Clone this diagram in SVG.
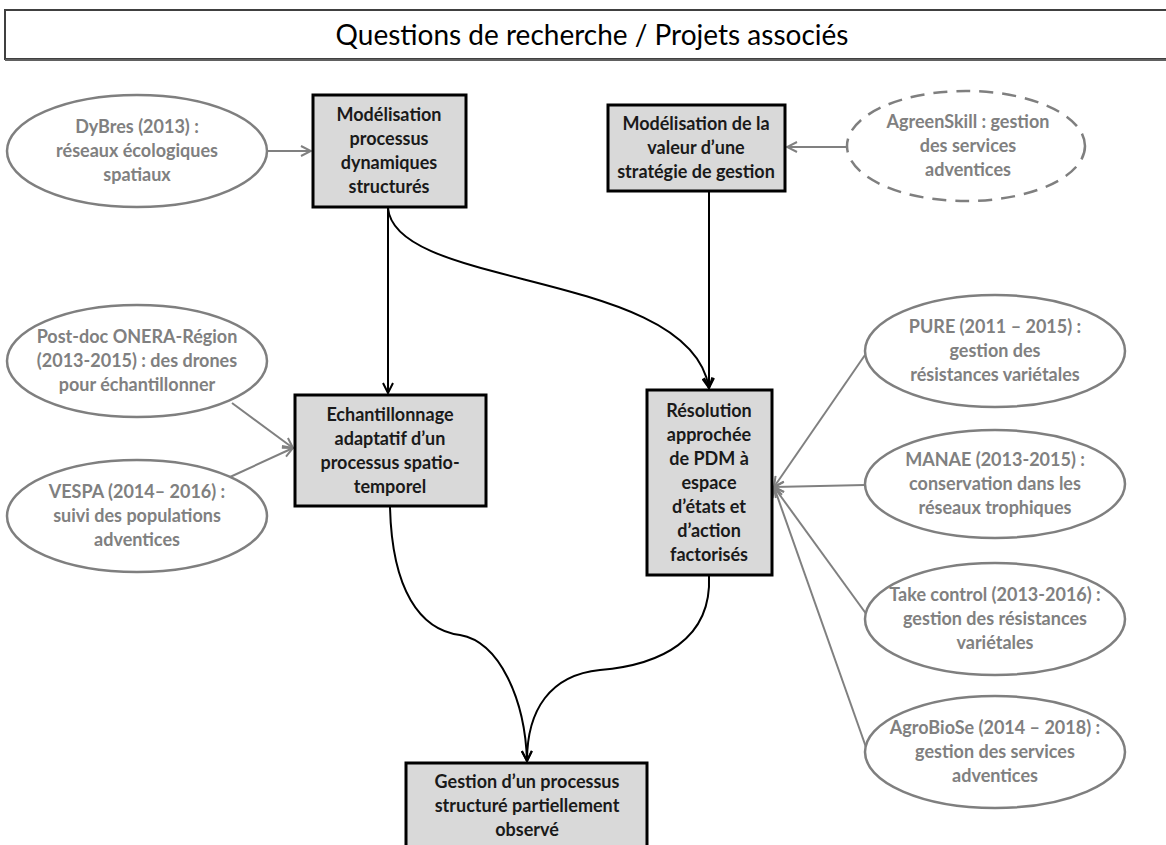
<svg xmlns="http://www.w3.org/2000/svg" width="1166" height="845" viewBox="0 0 1166 845">
<defs>
<style>
.box{fill:#d9d9d9;stroke:#000;stroke-width:3}
.ell{fill:#fff;stroke:#7f7f7f;stroke-width:2.5}
.dash{stroke-dasharray:14 9}
.bt{font-family:Lato,"Liberation Sans",sans-serif;font-weight:bold;font-size:18px;fill:#1a1a1a;text-anchor:middle}
.et{font-family:Lato,"Liberation Sans",sans-serif;font-weight:bold;font-size:18px;fill:#808080;text-anchor:middle}
.title{font-family:Lato,"Liberation Sans",sans-serif;font-size:28px;fill:#000;text-anchor:middle}
.main{fill:none;stroke:#000;stroke-width:2}
.proj{fill:none;stroke:#808080;stroke-width:2}
</style>
<marker id="ab" viewBox="0 0 12 12" refX="11" refY="6" markerWidth="12" markerHeight="12" markerUnits="userSpaceOnUse" orient="auto">
<path d="M1,1 L11,6 L1,11" fill="none" stroke="#000" stroke-width="2"/>
</marker>
<marker id="ag" viewBox="0 0 12 12" refX="11" refY="6" markerWidth="12" markerHeight="12" markerUnits="userSpaceOnUse" orient="auto">
<path d="M1,1 L11,6 L1,11" fill="none" stroke="#808080" stroke-width="2"/>
</marker>
</defs>
<rect width="1166" height="845" fill="#fff"/>
<g id="title">
<rect x="5" y="10" width="1170" height="49" fill="#fff" stroke="#404040" stroke-width="2"/>
<line x1="5" y1="60" x2="1166" y2="60" stroke="#606060" stroke-width="2"/>
<text class="title" x="592" y="45">Questions de recherche / Projets associés</text>
</g>
<g id="connectors">
<path class="proj" d="M267,151 L311,151" marker-end="url(#ag)"/>
<path class="proj" d="M847,147 L787,147" marker-end="url(#ag)"/>
<path class="proj" d="M232,403 L293,448" marker-end="url(#ag)"/>
<path class="proj" d="M230,477 L293,448" marker-end="url(#ag)"/>
<path class="proj" d="M865,355 L774,487" marker-end="url(#ag)"/>
<path class="proj" d="M865,485 L774,487" marker-end="url(#ag)"/>
<path class="proj" d="M867,615 L774,487" marker-end="url(#ag)"/>
<path class="proj" d="M867,750 L774,487" marker-end="url(#ag)"/>
<path class="main" d="M388,208 L388,393" marker-end="url(#ab)"/>
<path class="main" d="M388,208 C395,290 690,270 709,388" marker-end="url(#ab)"/>
<path class="main" d="M709,192 L709,388" marker-end="url(#ab)"/>
<path class="main" d="M390,507 C392,590 420,630 460,635 C500,642 525,700 527,761" marker-end="url(#ab)"/>
<path class="main" d="M709,576 C712,640 660,665 600,670 C550,675 527,710 527,761" marker-end="url(#ab)"/>
</g>
<g id="n-dybres">
<ellipse class="ell" cx="137" cy="151" rx="130" ry="56"/>
<text class="et" x="137" y="133">DyBres (2013) :</text>
<text class="et" x="137" y="157">réseaux écologiques</text>
<text class="et" x="137" y="181">spatiaux</text>
</g>
<g id="n-modproc">
<rect class="box" x="313" y="95" width="153" height="112"/>
<text class="bt" x="389" y="121">Modélisation</text>
<text class="bt" x="389" y="145">processus</text>
<text class="bt" x="389" y="169">dynamiques</text>
<text class="bt" x="389" y="193">structurés</text>
</g>
<g id="n-modval">
<rect class="box" x="608" y="105" width="177" height="86"/>
<text class="bt" x="696" y="130">Modélisation de la</text>
<text class="bt" x="696" y="154">valeur d’une</text>
<text class="bt" x="696" y="178">stratégie de gestion</text>
</g>
<g id="n-agreenskill">
<ellipse class="ell dash" cx="966" cy="146" rx="119" ry="55"/>
<text class="et" x="968" y="128">AgreenSkill : gestion</text>
<text class="et" x="968" y="152">des services</text>
<text class="et" x="968" y="176">adventices</text>
</g>
<g id="n-postdoc">
<ellipse class="ell" cx="137" cy="361" rx="130" ry="56"/>
<text class="et" x="137" y="343">Post-doc ONERA-Région</text>
<text class="et" x="137" y="367">(2013-2015) : des drones</text>
<text class="et" x="137" y="391">pour échantillonner</text>
</g>
<g id="n-vespa">
<ellipse class="ell" cx="137" cy="516" rx="130" ry="56"/>
<text class="et" x="137" y="498">VESPA (2014– 2016) :</text>
<text class="et" x="137" y="522">suivi des populations</text>
<text class="et" x="137" y="546">adventices</text>
</g>
<g id="n-echant">
<rect class="box" x="295" y="395" width="191" height="111"/>
<text class="bt" x="390" y="421">Echantillonnage</text>
<text class="bt" x="390" y="445">adaptatif d’un</text>
<text class="bt" x="390" y="469">processus spatio-</text>
<text class="bt" x="390" y="493">temporel</text>
</g>
<g id="n-pdm">
<rect class="box" x="647" y="390" width="125" height="185"/>
<text class="bt" x="709" y="417">Résolution</text>
<text class="bt" x="709" y="441">approchée</text>
<text class="bt" x="709" y="465">de PDM à</text>
<text class="bt" x="709" y="489">espace</text>
<text class="bt" x="709" y="513">d’états et</text>
<text class="bt" x="709" y="537">d’action</text>
<text class="bt" x="709" y="561">factorisés</text>
</g>
<g id="n-pure">
<ellipse class="ell" cx="995" cy="351" rx="130" ry="56"/>
<text class="et" x="995" y="333">PURE (2011 – 2015) :</text>
<text class="et" x="995" y="357">gestion des</text>
<text class="et" x="995" y="381">résistances variétales</text>
</g>
<g id="n-manae">
<ellipse class="ell" cx="995" cy="484" rx="130" ry="54"/>
<text class="et" x="995" y="466">MANAE (2013-2015) :</text>
<text class="et" x="995" y="490">conservation dans les</text>
<text class="et" x="995" y="514">réseaux trophiques</text>
</g>
<g id="n-takecontrol">
<ellipse class="ell" cx="995" cy="619" rx="130" ry="56"/>
<text class="et" x="995" y="601">Take control (2013-2016) :</text>
<text class="et" x="995" y="625">gestion des résistances</text>
<text class="et" x="995" y="649">variétales</text>
</g>
<g id="n-agrobiose">
<ellipse class="ell" cx="995" cy="752" rx="130" ry="56"/>
<text class="et" x="995" y="734">AgroBioSe (2014 – 2018) :</text>
<text class="et" x="995" y="758">gestion des services</text>
<text class="et" x="995" y="782">adventices</text>
</g>
<g id="n-gestion">
<rect class="box" x="406" y="763" width="241" height="95"/>
<text class="bt" x="527" y="788">Gestion d’un processus</text>
<text class="bt" x="527" y="812">structuré partiellement</text>
<text class="bt" x="527" y="836">observé</text>
</g>
</svg>
